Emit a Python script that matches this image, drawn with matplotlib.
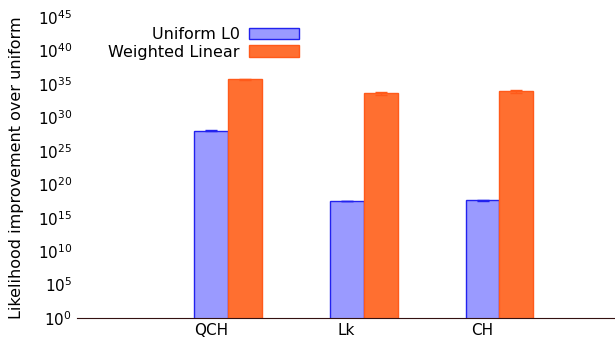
import numpy as np
import matplotlib.pyplot as plt

models = ['QCH', 'Lk', 'CH']
# log10 of likelihood improvement over uniform
uniform_l0 = [28.0, 17.5, 17.6]
uniform_l0_err = [0.1, 0.05, 0.05]
weighted_linear = [35.7, 33.6, 33.9]
weighted_linear_err = [0.1, 0.25, 0.2]

x = np.arange(len(models))
w = 0.25

fig = plt.figure(figsize=(6.15, 3.43), dpi=100)
ax = fig.add_axes([0.125, 0.073, 0.875, 0.877])

lo = 10.0 ** np.array(uniform_l0)
hi = 10.0 ** np.array(weighted_linear)
lo_err = [lo - 10.0 ** (np.array(uniform_l0) - uniform_l0_err),
          10.0 ** (np.array(uniform_l0) + uniform_l0_err) - lo]
hi_err = [hi - 10.0 ** (np.array(weighted_linear) - weighted_linear_err),
          10.0 ** (np.array(weighted_linear) + weighted_linear_err) - hi]

ax.bar(x - w / 2, lo, w, color='#9a9aff', edgecolor='#2222ee', linewidth=1,
       label='Uniform L0')
ax.errorbar(x - w / 2, lo, yerr=lo_err, fmt='none', ecolor='#2222ee', capsize=4, lw=1)
ax.bar(x + w / 2, hi, w, color='#ff6f30', edgecolor='#ff5a1a', linewidth=1,
       label='Weighted Linear')
ax.errorbar(x + w / 2, hi, yerr=hi_err, fmt='none', ecolor='#ff5a1a', capsize=4, lw=1)

ax.set_yscale('log')
ax.set_ylim(1, 1e45)
ax.set_yticks([10.0 ** k for k in range(0, 46, 5)])
ax.minorticks_off()
ax.set_xlim(-1.11, 2.85)
# category labels sit under the first bar of each group
ax.set_xticks(x - w / 2)
ax.set_xticklabels(models)
ax.tick_params(length=0, labelsize=11)
ax.set_ylabel('Likelihood improvement over uniform', fontsize=11.5, labelpad=10)

for s in ['top', 'right', 'left']:
    ax.spines[s].set_visible(False)
ax.spines['bottom'].set_color('#331111')

ax.legend(loc='upper right', bbox_to_anchor=(310 / 615, 1 - 16 / 343),
          bbox_transform=fig.transFigure, frameon=False,
          markerfirst=False, fontsize=11.5, handlelength=3.1, handleheight=0.75,
          labelspacing=0.15, borderpad=0.2, handletextpad=0.6)

fig.savefig('out.png', dpi=100)
